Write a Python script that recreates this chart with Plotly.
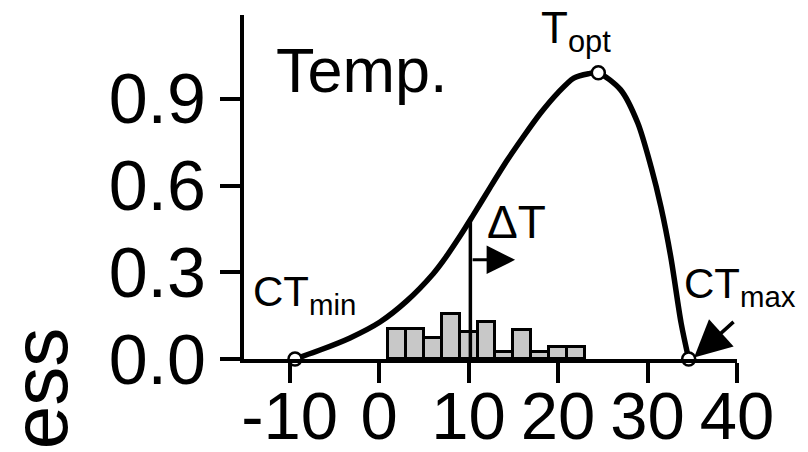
import plotly.graph_objects as go

# ---- data ----
curve_temp = [-9.4, -6.6, -3.25, 0.1, 3.1, 6.05, 7.2, 9.1, 10.5, 12.4, 14.35, 16.1,
              18.05, 19.95, 21.75, 23.4, 24.5, 27.0, 28.9, 30.4, 31.5, 32.6, 33.75, 34.6]
curve_fit = [0.0, 0.031, 0.073, 0.128, 0.201, 0.295, 0.341, 0.428, 0.497, 0.593, 0.689, 0.768,
             0.851, 0.920, 0.972, 0.987, 0.99, 0.931, 0.817, 0.664, 0.526, 0.353, 0.125, 0.0]

hist_centers = [2, 4, 6, 8, 10, 12, 14, 16, 18, 20, 22]
hist_heights = [0.103, 0.103, 0.072, 0.156, 0.095, 0.127, 0.024, 0.099, 0.024, 0.043, 0.043]
hist_width = 2

point_names = ["CTmin", "Topt", "CTmax"]
point_temp = [-9.4, 24.5, 34.6]
point_fit = [0.0, 0.99, 0.0]

delta_t_temp = [10.2, 10.2]
delta_t_fit = [0.0, 0.487]

x_ticks = [-10, 0, 10, 20, 30, 40]
x_ticktext = ["-10", "0", "10", "20", "30", "40"]
y_ticks = [0.0, 0.3, 0.6, 0.9]
y_ticktext = ["0.0", "0.3", "0.6", "0.9"]

FONT = "Liberation Sans, Arial, sans-serif"

fig = go.Figure()

fig.add_trace(go.Bar(
    x=hist_centers, y=hist_heights, width=hist_width,
    marker=dict(color="#c8c8c8", line=dict(color="black", width=3)),
    showlegend=False, hoverinfo="skip",
))

fig.add_trace(go.Scatter(
    x=delta_t_temp, y=delta_t_fit, mode="lines",
    line=dict(color="black", width=3.5), showlegend=False, cliponaxis=False,
))

fig.add_trace(go.Scatter(
    x=curve_temp, y=curve_fit, mode="lines",
    line=dict(color="black", width=5.5, shape="spline", smoothing=0.8),
    showlegend=False, cliponaxis=False,
))

fig.add_trace(go.Scatter(
    x=point_temp, y=point_fit, mode="markers", text=point_names,
    marker=dict(size=13, color="white", line=dict(color="black", width=2.5)),
    showlegend=False, cliponaxis=False,
))

annotations = [
    dict(text="Temp.", x=-11.8, y=1.0, xref="x", yref="y", xanchor="left", yanchor="middle",
         showarrow=False, font=dict(size=63, color="black", family=FONT)),
    dict(text="CT<sub>min</sub>", x=-14.3, y=0.222, xref="x", yref="y", xanchor="left", yanchor="middle",
         showarrow=False, font=dict(size=42, color="black", family=FONT)),
    dict(text="T<sub>opt</sub>", x=17.9, y=1.135, xref="x", yref="y", xanchor="left", yanchor="middle",
         showarrow=False, font=dict(size=44, color="black", family=FONT)),
    dict(text="CT<sub>max</sub>", x=33.9, y=0.25, xref="x", yref="y", xanchor="left", yanchor="middle",
         showarrow=False, font=dict(size=42, color="black", family=FONT)),
    dict(text="ΔT", x=15.4, y=0.475, xref="x", yref="y", xanchor="center", yanchor="middle",
         showarrow=False, font=dict(size=46, color="black", family=FONT)),
    dict(text="ess", x=-0.414, y=-0.085, xref="paper", yref="paper", xanchor="center", yanchor="middle",
         textangle=-90, showarrow=False, font=dict(size=78, color="black", family=FONT)),
    # Delta T arrow
    dict(text="", x=15.2, y=0.343, xref="x", yref="y", ax=-44, ay=0, showarrow=True,
         arrowhead=2, arrowsize=1.9, arrowwidth=3, arrowcolor="black", standoff=0),
    # CTmax arrow
    dict(text="", x=35.2, y=0.005, xref="x", yref="y", ax=41, ay=-37, showarrow=True,
         arrowhead=2, arrowsize=2.1, arrowwidth=3.5, arrowcolor="black", standoff=0),
]

fig.update_layout(
    width=808, height=452,
    margin=dict(l=244, r=71, t=15, b=93, autoexpand=False),
    paper_bgcolor="white", plot_bgcolor="white",
    annotations=annotations,
    bargap=0,
    font=dict(family=FONT, color="black"),
)

fig.update_xaxes(
    range=[-15.1, 40], tickvals=x_ticks, ticktext=x_ticktext, automargin=False,
    showgrid=False, zeroline=False, showline=True, linewidth=4, linecolor="black",
    ticks="outside", ticklen=20, tickwidth=4, tickcolor="black", ticklabelstandoff=-24,
    tickfont=dict(size=67, color="black", family=FONT),
)
fig.update_yaxes(
    range=[0, 1.19], tickvals=y_ticks, ticktext=y_ticktext, automargin=False,
    showgrid=False, zeroline=False, showline=True, linewidth=4, linecolor="black",
    ticks="outside", ticklen=20, tickwidth=4, tickcolor="black",
    tickfont=dict(size=70, color="black", family=FONT),
)

fig.write_html("out.html")
